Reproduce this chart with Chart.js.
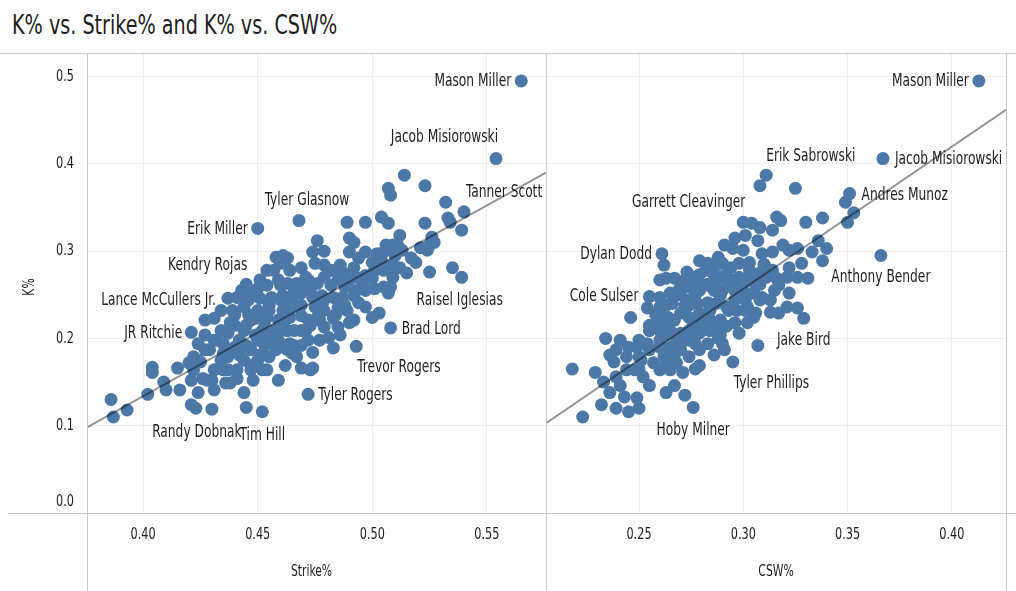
<!DOCTYPE html>
<html>
<head>
<meta charset="utf-8">
<script src="https://cdn.jsdelivr.net/npm/chart.js@4.4.0/dist/chart.umd.min.js"></script>
<style>
  body { margin: 0; background: #fff; }
  #wrap { position: relative; width: 1016px; height: 591px; overflow: hidden;
          font-family: 'DejaVu Sans Condensed', 'Liberation Sans Narrow', sans-serif; }
  #title { position: absolute; left: 12px; top: 8px; font-size: 26px; line-height: 34px; color: #1d1d1d;
           transform: scaleX(0.82); transform-origin: 0 50%; white-space: nowrap; }
  .rule { position: absolute; background: #cacaca; z-index: 2; }
  #left { position: absolute; left: 0; top: 53px; }
  #right { position: absolute; left: 546px; top: 53px; }
</style>
</head>
<body>
<div id="wrap">
  <div id="title">K% vs. Strike% and K% vs. CSW%</div>
  <div class="rule" style="left:0;top:53px;width:1016px;height:1px"></div>
  <div class="rule" style="left:8px;top:513px;width:1008px;height:1px"></div>
  <div class="rule" style="left:87px;top:53px;width:1px;height:538px"></div>
  <div class="rule" style="left:546px;top:53px;width:1px;height:538px"></div>
  <div class="rule" style="left:1006px;top:53px;width:1px;height:538px"></div>
  <canvas id="left" width="546" height="538"></canvas>
  <canvas id="right" width="470" height="538"></canvas>
</div>
<script>
// ---- data: K% vs Strike% (left panel) ----
const strikePct = [
  .386, .387, .393, .402, .404, .404, .409, .410, .415, .416, .420, .421, .421, .424, .426, .430, .430, .431,
  .424, .427, .422, .427, .432, .435, .436, .437, .441, .444, .445, .448, .454, .459, .463, .469, .473, .474,
  .467, .463, .514, .507, .508, .523, .532, .504, .507, .497, .489, .523, .533, .534, .539, .526, .527, .490,
  .492, .476, .474, .479, .490, .494, .497, .502, .505, .509, .511, .513, .521, .524, .525, .535, .525, .458,
  .461, .463, .460, .454, .451, .457, .464, .469, .471, .475, .479, .486, .487, .492, .493, .500, .504, .505,
  .509, .512, .515, .509, .508, .507, .500, .496, .490, .485, .482, .479, .476, .472, .467, .463, .459, .454,
  .450, .443, .441, .446, .451, .456, .461, .465, .469, .474, .478, .483, .487, .492, .497, .501, .505, .494,
  .497, .500, .503, .490, .485, .483, .485, .486, .481, .479, .476, .475, .472, .471, .472, .474, .465, .464,
  .464, .465, .461, .459, .457, .459, .458, .455, .452, .450, .447, .450, .452, .454, .450, .447, .444, .442,
  .439, .444, .441, .438, .435, .437, .435, .437, .438, .439, .444, .431, .429, .424, .425, .431, .428, .422,
  .489, .492, .483, .431, .434, .427, .447, .469, .460, .479, .488, .469, .453, .462, .477, .447, .440, .446,
  .449, .452, .442, .434, .455, .462, .469, .466, .440, .445, .449, .453, .455, .460, .462, .466, .469, .473,
  .477, .479, .484, .488, .493, .497, .501, .488, .482, .473, .466, .460, .455, .462, .469, .451, .445, .440,
  .434, .447, .510, .517, .519, .506, .512
];
const strikeK = [
  .130, .110, .118, .136, .167, .161, .150, .141, .166, .141, .172, .152, .124, .138, .154, .152, .119, .141,
  .175, .187, .179, .204, .198, .183, .149, .164, .154, .138, .121, .152, .164, .152, .187, .166, .164, .184,
  .179, .209, .387, .372, .364, .375, .356, .339, .332, .333, .333, .332, .338, .333, .324, .316, .310, .315,
  .310, .312, .299, .300, .299, .292, .299, .297, .299, .307, .307, .301, .304, .301, .307, .281, .276, .293,
  .295, .292, .286, .278, .267, .278, .278, .281, .270, .286, .284, .284, .276, .281, .270, .287, .289, .278,
  .284, .281, .275, .270, .259, .252, .269, .263, .267, .267, .261, .270, .263, .267, .263, .263, .267, .261,
  .257, .255, .247, .244, .246, .247, .249, .247, .252, .247, .249, .247, .247, .249, .255, .257, .259, .241,
  .236, .224, .229, .218, .235, .223, .213, .204, .201, .213, .224, .236, .221, .209, .198, .166, .183, .194,
  .224, .236, .232, .221, .209, .198, .187, .179, .164, .175, .187, .198, .209, .224, .232, .221, .209, .198,
  .187, .175, .164, .149, .164, .179, .194, .206, .218, .232, .236, .198, .187, .194, .173, .164, .152, .164,
  .232, .221, .189, .223, .232, .221, .252, .238, .244, .232, .259, .259, .192, .169, .198, .169, .215, .227,
  .204, .181, .181, .209, .238, .221, .209, .192, .227, .215, .223, .219, .198, .209, .189, .209, .226, .215,
  .221, .244, .227, .238, .255, .272, .278, .272, .278, .255, .255, .261, .232, .244, .192, .181, .192, .190,
  .175, .164, .295, .292, .287, .307, .318
];
const strikeNames = ['Mason Miller', 'Jacob Misiorowski', 'Tanner Scott', 'Tyler Glasnow', 'Erik Miller',
  'Kendry Rojas', 'Lance McCullers Jr.', 'JR Ritchie', 'Randy Dobnak', 'Tim Hill', 'Tyler Rogers',
  'Trevor Rogers', 'Brad Lord', 'Raisel Iglesias'];
const strikeNamedPct = [.565, .554, .540, .468, .450, .445, .437, .421, .423, .452, .472, .493, .508, .539];
const strikeNamedK   = [.495, .406, .345, .335, .326, .262, .246, .207, .120, .116, .136, .191, .212, .270];
const strikeTrendPct = [0.3755, 0.5758];
const strikeTrendK   = [0.098, 0.390];

// ---- data: K% vs CSW% (right panel) ----
const cswPct = [
  .308, .325, .349, .353, .350, .316, .330, .338, .304, .308, .314, .318, .307, .301, .296, .291, .295, .300,
  .288, .279, .283, .273, .263, .260, .267, .278, .285, .294, .298, .303, .309, .314, .319, .322, .326, .333,
  .336, .340, .338, .328, .322, .314, .308, .303, .298, .294, .289, .316, .321, .326, .331, .322, .309, .305,
  .300, .295, .290, .285, .279, .274, .269, .265, .260, .254, .260, .266, .272, .278, .283, .287, .292, .297,
  .302, .306, .313, .317, .321, .326, .307, .298, .290, .287, .284, .279, .274, .270, .264, .259, .260, .265,
  .270, .274, .279, .283, .279, .274, .270, .265, .260, .255, .254, .249, .246, .234, .218, .229, .238, .244,
  .250, .244, .239, .233, .236, .232, .223, .239, .245, .250, .249, .255, .263, .260, .265, .271, .257, .252,
  .302, .296, .305, .243, .274, .289, .301, .279, .267, .255, .250, .289, .296, .282, .308, .315, .277, .260,
  .239, .241, .267, .272, .293, .287, .299, .304, .311, .283, .276, .270, .290, .310, .268, .288, .284, .276,
  .292, .262, .262, .268, .250, .245, .279, .286, .293, .274, .267, .260, .255, .301, .308, .289, .262, .272,
  .277, .282, .287, .291, .296, .301, .306, .310, .317, .313, .284, .279, .274, .270, .263, .258, .263, .272,
  .284, .291, .286, .279, .277, .251, .248, .241, .236, .263
];
const cswK = [
  .375, .372, .356, .344, .333, .339, .333, .338, .332, .327, .324, .335, .312, .318, .315, .307, .303, .301,
  .293, .289, .286, .276, .269, .267, .269, .267, .276, .281, .286, .287, .297, .299, .307, .301, .303, .299,
  .312, .303, .289, .286, .281, .278, .275, .278, .270, .267, .270, .269, .270, .270, .269, .252, .247, .252,
  .255, .259, .255, .259, .255, .259, .255, .252, .247, .235, .236, .240, .238, .240, .241, .240, .236, .232,
  .236, .229, .230, .229, .236, .235, .192, .206, .194, .209, .221, .229, .224, .229, .224, .221, .209, .209,
  .206, .209, .206, .194, .187, .179, .187, .190, .190, .187, .194, .190, .224, .200, .165, .161, .173, .179,
  .179, .164, .156, .150, .138, .124, .110, .120, .116, .120, .132, .146, .138, .164, .164, .161, .172, .156,
  .218, .218, .224, .133, .244, .249, .244, .221, .221, .209, .198, .221, .244, .278, .262, .255, .194, .198,
  .187, .146, .146, .135, .262, .266, .262, .266, .270, .262, .270, .262, .286, .285, .200, .200, .212, .214,
  .214, .215, .180, .172, .165, .190, .273, .255, .232, .198, .181, .232, .215, .267, .244, .204, .284, .267,
  .250, .261, .284, .272, .255, .232, .261, .284, .261, .244, .232, .215, .238, .250, .238, .227, .204, .198,
  .209, .187, .181, .169, .165, .175, .164, .198, .181, .175
];
const cswNames = ['Mason Miller', 'Jacob Misiorowski', 'Erik Sabrowski', 'Andres Munoz', 'Garrett Cleavinger',
  'Dylan Dodd', 'Cole Sulser', 'Anthony Bender', 'Jake Bird', 'Tyler Phillips', 'Hoby Milner'];
const cswNamedPct = [.413, .367, .311, .351, .300, .261, .255, .366, .329, .295, .276];
const cswNamedK   = [.495, .406, .387, .366, .333, .297, .248, .295, .223, .173, .121];
const cswTrendPct = [0.2054, 0.426];
const cswTrendK   = [0.103, 0.462];

// ---- axes ----
const kTicks = [0, 0.1, 0.2, 0.3, 0.4, 0.5];
const strikeTicks = [0.40, 0.45, 0.50, 0.55];
const cswTicks = [0.25, 0.30, 0.35, 0.40];

// label placement [dx, dy, align] in pixels around each named point
const strikePlace = [[-10, 1, 'right'], [2, -21, 'right'], [2, -19, 'left'], [8, -20, 'center'],
  [-10, 1, 'right'], [1, -19, 'right'], [-12, 2, 'right'], [-9, 1, 'right'], [1, 24, 'center'],
  [0, 24, 'center'], [10, 1, 'left'], [1, 21, 'left'], [11, 2, 'left'], [-2, 23, 'center']];
const cswPlace = [[-10, 1, 'right'], [12, 1, 'left'], [0, -19, 'left'], [12, 2, 'left'],
  [2, -20, 'right'], [-10, 1, 'right'], [-11, 0, 'right'], [0, 22, 'center'], [0, 22, 'center'],
  [1, 22, 'left'], [0, 23, 'center']];

const FONT = "'DejaVu Sans Condensed', 'Liberation Sans Narrow', sans-serif";
const INK = '#1d1d1d';
const DOT = '#4c78a8';
const GRID = '#eeeeee';

const toPoints = (xs, ys) => xs.map((v, i) => ({x: v, y: ys[i]}));

// the reference uses a tall condensed face, so text is squeezed horizontally
function squeezed(ctx, text, px, py, align, size, sx, rot) {
  ctx.save();
  ctx.translate(px, py);
  if (rot) ctx.rotate(rot);
  ctx.scale(sx, 1);
  ctx.font = size + 'px ' + FONT;
  ctx.fillStyle = INK;
  ctx.textBaseline = 'middle';
  ctx.textAlign = align;
  ctx.fillText(text, 0, 0);
  ctx.restore();
}

function namesPlugin(names, xs, ys, place) {
  return {
    id: 'names',
    afterDatasetDraw(chart, args) {
      if (args.index !== 1) return;
      const {ctx, scales: {x, y}} = chart;
      names.forEach((n, i) => {
        const [dx, dy, align] = place[i];
        squeezed(ctx, n, x.getPixelForValue(xs[i]) + dx, y.getPixelForValue(ys[i]) + dy, align, 17, 0.8);
      });
    }
  };
}

function axisTextPlugin(cfg) {
  return {
    id: 'axisText',
    afterDraw(chart) {
      const {ctx, chartArea, scales: {x, y}} = chart;
      cfg.xTicks.forEach(v => squeezed(ctx, v.toFixed(2), x.getPixelForValue(v), chartArea.bottom + 22, 'center', 16.5, 0.76));
      squeezed(ctx, cfg.xTitle, (chartArea.left + chartArea.right) / 2 - (cfg.showY ? 5 : 0), chartArea.bottom + 59, 'center', 15, 0.8);
      if (!cfg.showY) return;
      kTicks.forEach(v => squeezed(ctx, v.toFixed(1), chartArea.left - 13, y.getPixelForValue(v) - (v === 0 ? 11 : 0), 'right', 16.5, 0.76));
      squeezed(ctx, 'K%', 30, (chartArea.top + chartArea.bottom) / 2 + 4, 'center', 15, 0.8, -Math.PI / 2);
    }
  };
}

function panel(id, cfg) {
  const pts = toPoints(cfg.xs, cfg.ys).concat(toPoints(cfg.namedX, cfg.namedY));
  new Chart(document.getElementById(id), {
    type: 'scatter',
    data: {
      datasets: [{
        data: toPoints(cfg.trendX, cfg.trendY),
        showLine: true,
        borderColor: 'rgba(0,0,0,0.42)',
        borderWidth: 2,
        pointRadius: 0,
        order: 0
      }, {
        data: pts,
        backgroundColor: DOT,
        borderWidth: 0,
        pointRadius: 6.5,
        clip: false,
        order: 1
      }]
    },
    options: {
      responsive: false,
      animation: false,
      events: [],
      devicePixelRatio: 1,
      layout: {autoPadding: false, padding: {right: cfg.padRight}},
      plugins: {legend: {display: false}, tooltip: {enabled: false}},
      scales: {
        x: {
          type: 'linear',
          min: cfg.xMin,
          max: cfg.xMax,
          afterBuildTicks: s => { s.ticks = cfg.xTicks.map(v => ({value: v})); },
          afterFit: s => { s.height = 78; s.paddingLeft = 0; s.paddingRight = 0; },
          ticks: {display: false},
          grid: {color: GRID, drawTicks: false},
          border: {display: false}
        },
        y: {
          min: 0,
          max: 0.527,
          afterBuildTicks: s => { s.ticks = kTicks.map(v => ({value: v})); },
          afterFit: s => { s.width = cfg.showY ? 87 : 0; s.paddingTop = 0; s.paddingBottom = 0; },
          ticks: {display: false},
          grid: {color: GRID, drawTicks: false},
          border: {display: false}
        }
      }
    },
    plugins: [namesPlugin(cfg.names, cfg.namedX, cfg.namedY, cfg.place), axisTextPlugin(cfg)]
  });
}

panel('left', {
  xs: strikePct, ys: strikeK, namedX: strikeNamedPct, namedY: strikeNamedK, names: strikeNames,
  place: strikePlace, trendX: strikeTrendPct, trendY: strikeTrendK,
  xMin: 0.3755, xMax: 0.5758, xTicks: strikeTicks, xTitle: 'Strike%', showY: true, padRight: 0
});
panel('right', {
  xs: cswPct, ys: cswK, namedX: cswNamedPct, namedY: cswNamedK, names: cswNames,
  place: cswPlace, trendX: cswTrendPct, trendY: cswTrendK,
  xMin: 0.2054, xMax: 0.426, xTicks: cswTicks, xTitle: 'CSW%', showY: false, padRight: 10
});
</script>
</body>
</html>
